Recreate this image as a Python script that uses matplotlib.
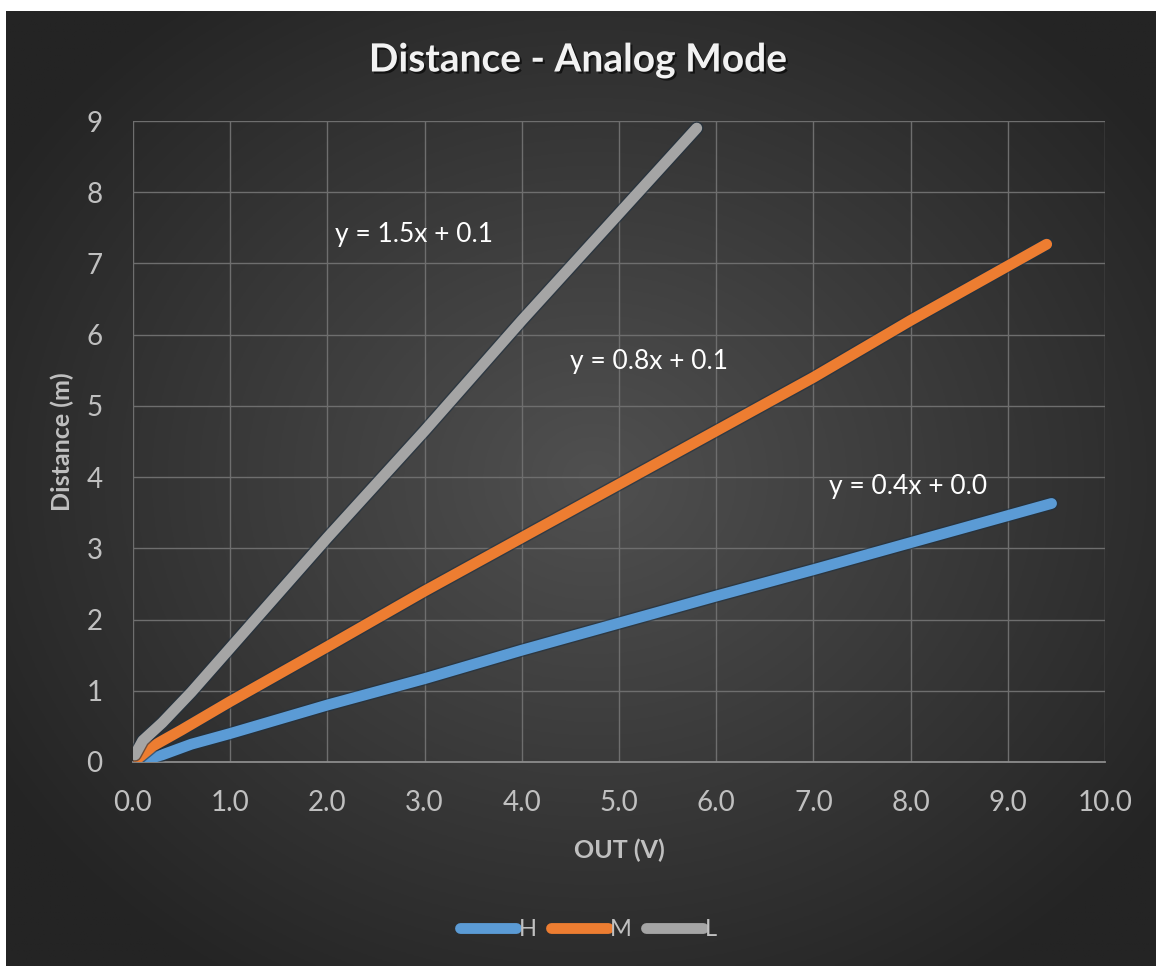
import numpy as np
import matplotlib
matplotlib.use("Agg")
import matplotlib.pyplot as plt
import matplotlib.patheffects as pe
from matplotlib.lines import Line2D

plt.rcParams['font.family'] = ['Lato', 'DejaVu Sans']

# ---- data ----
h_x = [0.05, 0.3, 0.6, 1.0, 2.0, 3.0, 4.0, 5.0, 6.0, 7.0, 8.0, 9.45]
h_y = [0.0, 0.1, 0.25, 0.4, 0.8, 1.17, 1.57, 1.95, 2.33, 2.7, 3.08, 3.63]
m_x = [0.05, 0.2, 0.5, 1.0, 2.0, 3.0, 4.0, 5.0, 6.0, 7.0, 8.0, 9.4]
m_y = [0.05, 0.22, 0.45, 0.85, 1.62, 2.4, 3.15, 3.9, 4.65, 5.4, 6.2, 7.27]
l_x = [0.02, 0.1, 0.3, 0.6, 1.0, 2.0, 3.0, 4.0, 5.0, 5.8]
l_y = [0.1, 0.3, 0.55, 0.98, 1.6, 3.15, 4.65, 6.2, 7.7, 8.9]
series_names = ["H", "M", "L"]
series_colors = ["#5b9bd5", "#ed7d31", "#a5a5a5"]
eq_labels = ["y = 0.4x + 0.0", "y = 0.8x + 0.1", "y = 1.5x + 0.1"]
eq_pos = [(7.16, 3.87), (4.5, 5.63), (2.08, 7.41)]
x_ticks = [0.0, 1.0, 2.0, 3.0, 4.0, 5.0, 6.0, 7.0, 8.0, 9.0, 10.0]
y_ticks = [0, 1, 2, 3, 4, 5, 6, 7, 8, 9]

W, H = 1156, 966
fig = plt.figure(figsize=(W / 100, H / 100), dpi=100)
fig.patch.set_facecolor("white")

# background panel with radial gradient
bg = fig.add_axes([6 / W, 0, 1150 / W, 955 / H])
bg.set_axis_off()
yy, xx = np.mgrid[0:400, 0:480]
cx, cy = 245, 195
r = np.sqrt(((xx - cx) / 290.0) ** 2 + ((yy - cy) / 250.0) ** 2)
r = np.clip(r, 0, 1)
c0 = np.array([0x50, 0x50, 0x50]) / 255
c1 = np.array([0x24, 0x24, 0x24]) / 255
img = c0[None, None, :] * (1 - r[..., None]) + c1[None, None, :] * r[..., None]
bg.imshow(img, aspect="auto", extent=[0, 1, 0, 1])
bg.set_xlim(0, 1)
bg.set_ylim(0, 1)

ax = fig.add_axes([133 / W, 1 - 762 / H, (1105 - 133) / W, (762 - 121) / H])
ax.patch.set_alpha(0)
ax.set_xlim(0, 10)
ax.set_ylim(0, 9)
ax.set_xticks(x_ticks)
ax.set_xticklabels([f"{t:.1f}" for t in x_ticks])
ax.set_yticks(y_ticks)
ax.grid(True, color="#6e6e6e", linewidth=1.0)
ax.set_axisbelow(True)
for s in ["top", "right", "left"]:
    ax.spines[s].set_visible(False)
ax.spines["bottom"].set_color("#8c8c8c")
ax.spines["bottom"].set_linewidth(1.3)
ax.tick_params(axis="both", length=0, colors="#c0c0c0", labelsize=20)
ax.tick_params(axis="x", pad=20)
ax.tick_params(axis="y", pad=22)

xs = [h_x, m_x, l_x]
ys = [h_y, m_y, l_y]
for x, y, c, n in zip(xs, ys, series_colors, series_names):
    ax.plot(x, y, color=c, linewidth=7.8, solid_capstyle="round",
            solid_joinstyle="round", label=n, zorder=3,
            path_effects=[pe.Stroke(linewidth=9.8, foreground="#1f3040", alpha=0.6),
                          pe.Normal()])

for t, (px, py) in zip(eq_labels, eq_pos):
    ax.text(px, py, t, color="white", fontsize=19, va="center", ha="left", zorder=4)

ax.set_xlabel("OUT (V)", color="#c0c0c0", fontsize=18, fontweight="bold")
ax.xaxis.set_label_coords(0.5, -(850 - 762) / 641)
ax.xaxis.label.set_va("center")
ax.set_ylabel("Distance (m)", color="#c0c0c0", fontsize=18, fontweight="bold")
ax.yaxis.set_label_coords((62 - 133) / 972, 0.5)
ax.yaxis.label.set_va("center")

fig.text(0.5, 1 - 60 / H, "Distance - Analog Mode", ha="center", va="center",
         color="#f2f2f2", fontsize=28, fontweight="bold",
         path_effects=[pe.withSimplePatchShadow(offset=(1.5, -1.5), shadow_rgbFace="black", alpha=0.6)])

handles = [Line2D([0], [0], color=c, linewidth=7.8, solid_capstyle="round") for c in series_colors]
leg = fig.legend(handles, series_names, loc="center", bbox_to_anchor=(0.509, 1 - 930 / H),
                 ncol=3, frameon=False, fontsize=17, labelcolor="#c0c0c0",
                 handlelength=2.4, handletextpad=0.1, columnspacing=0.6)

fig.savefig("out.png", dpi=100, facecolor=fig.get_facecolor())
